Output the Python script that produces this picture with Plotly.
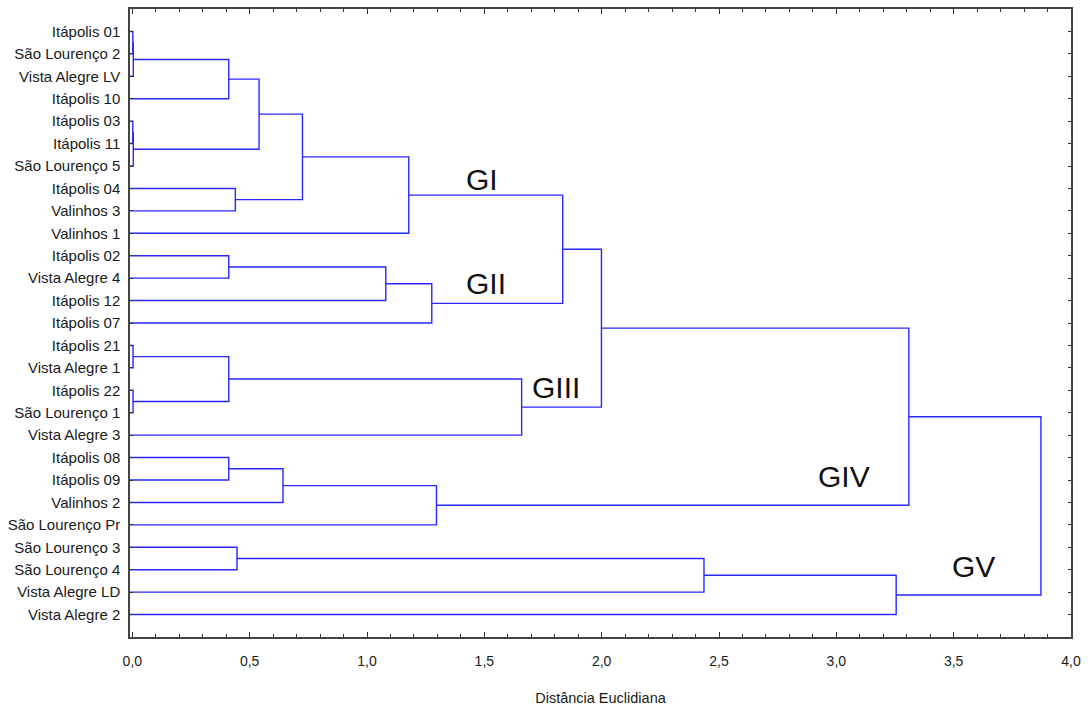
import plotly.graph_objects as go

# ---------------- data ----------------
leaves = [
    "Itápolis 01", "São Lourenço 2", "Vista Alegre LV", "Itápolis 10",
    "Itápolis 03", "Itápolis 11", "São Lourenço 5", "Itápolis 04",
    "Valinhos 3", "Valinhos 1", "Itápolis 02", "Vista Alegre 4",
    "Itápolis 12", "Itápolis 07", "Itápolis 21", "Vista Alegre 1",
    "Itápolis 22", "São Lourenço 1", "Vista Alegre 3", "Itápolis 08",
    "Itápolis 09", "Valinhos 2", "São Lourenço Pr", "São Lourenço 3",
    "São Lourenço 4", "Vista Alegre LD", "Vista Alegre 2",
]

# linkage steps: (child A, child B, distance); str = leaf, int = earlier step index
merges = [
    ("Itápolis 01", "São Lourenço 2", 0.002),   # 0
    (0, "Vista Alegre LV", 0.004),              # 1
    (1, "Itápolis 10", 0.411),                  # 2
    ("Itápolis 03", "Itápolis 11", 0.002),      # 3
    (3, "São Lourenço 5", 0.004),               # 4
    (2, 4, 0.540),                              # 5
    ("Itápolis 04", "Valinhos 3", 0.439),       # 6
    (5, 6, 0.725),                              # 7
    (7, "Valinhos 1", 1.178),                   # 8
    ("Itápolis 02", "Vista Alegre 4", 0.411),   # 9
    (9, "Itápolis 12", 1.080),                  # 10
    (10, "Itápolis 07", 1.276),                 # 11
    (8, 11, 1.834),                             # 12
    ("Itápolis 21", "Vista Alegre 1", 0.003),   # 13
    ("Itápolis 22", "São Lourenço 1", 0.003),   # 14
    (13, 14, 0.411),                            # 15
    (15, "Vista Alegre 3", 1.659),              # 16
    (12, 16, 1.999),                            # 17
    ("Itápolis 08", "Itápolis 09", 0.411),      # 18
    (18, "Valinhos 2", 0.642),                  # 19
    (19, "São Lourenço Pr", 1.296),             # 20
    (17, 20, 3.309),                            # 21
    ("São Lourenço 3", "São Lourenço 4", 0.446),  # 22
    (22, "Vista Alegre LD", 2.436),             # 23
    (23, "Vista Alegre 2", 3.255),              # 24
    (21, 24, 3.872),                            # 25
]

x_tick_values = [0.0, 0.5, 1.0, 1.5, 2.0, 2.5, 3.0, 3.5, 4.0]
x_tick_labels = ["0,0", "0,5", "1,0", "1,5", "2,0", "2,5", "3,0", "3,5", "4,0"]

x_title = "Distância Euclidiana"
group_labels = ["GI", "GII", "GIII", "GIV", "GV"]

# ---------------- layout helpers ----------------
X_MIN, X_MAX = -0.01, 4.0
group_pos = [(1.491, 7.62), (1.508, 12.25), (1.806, 16.88), (3.033, 20.84), (3.586, 24.86)]

leaf_y = {name: i + 1 for i, name in enumerate(leaves)}
node_pos = []  # (x, y) of each merge step


def pos(ref):
    if isinstance(ref, str):
        return X_MIN, leaf_y[ref]
    return node_pos[ref]


xs, ys = [], []
for a, b, h in merges:
    xa, ya = pos(a)
    xb, yb = pos(b)
    xs += [xa, h, h, xb, None]
    ys += [ya, ya, yb, yb, None]
    node_pos.append((h, (ya + yb) / 2))

fig = go.Figure()
fig.add_trace(go.Scatter(
    x=xs, y=ys, mode="lines",
    line=dict(color="rgb(40,40,255)", width=1.4),
    hoverinfo="skip", showlegend=False,
))

for text, (gx, gy) in zip(group_labels, group_pos):
    fig.add_annotation(x=gx, y=gy, text=text, showarrow=False,
                       font=dict(family="Liberation Sans, Arial", size=30, color="#111"),
                       xanchor="center", yanchor="middle")

sans = "Liberation Sans, Arial"

fig.update_layout(
    width=1088, height=708,
    margin=dict(l=130, r=17, t=9, b=71),
    paper_bgcolor="white", plot_bgcolor="white",
    showlegend=False,
    font=dict(family=sans, color="#1a1a1a"),
)
fig.update_xaxes(
    range=[X_MIN, X_MAX], automargin=False,
    tickvals=x_tick_values, ticktext=x_tick_labels,
    ticks="inside", ticklen=5, tickwidth=1, tickcolor="#333",
    minor=dict(dtick=0.1, ticks="inside", ticklen=3, tickcolor="#333", tick0=0),
    showgrid=False, zeroline=False,
    showline=True, linecolor="#444", linewidth=1.5, mirror="ticks",
    tickfont=dict(family=sans, size=14, color="#1a1a1a"),
    ticklabelstandoff=10,
    title=dict(text=x_title, font=dict(family=sans, size=14.5, color="#1a1a1a"), standoff=25),
)
fig.update_yaxes(
    range=[28, 0], automargin=False,
    tickvals=list(range(1, len(leaves) + 1)), ticktext=leaves,
    ticks="inside", ticklen=3, tickwidth=1, tickcolor="#333",
    showgrid=False, zeroline=False,
    showline=True, linecolor="#444", linewidth=1.5, mirror="ticks",
    tickfont=dict(family=sans, size=15, color="#1a1a1a"),
    ticklabelstandoff=5,
)

fig.write_html("out.html")
